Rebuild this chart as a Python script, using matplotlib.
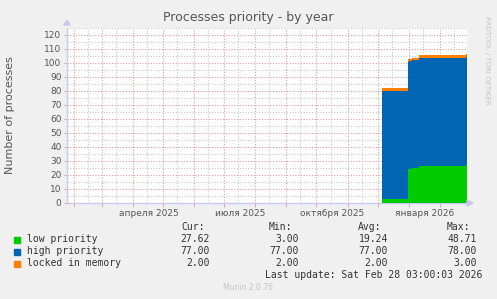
import matplotlib
matplotlib.use("Agg")
import matplotlib.pyplot as plt
import matplotlib.dates as mdates
import numpy as np
import pandas as pd

# ---- data ----
dates = ["2025-12-05 00:00", "2025-12-30 00:00", "2025-12-31 00:00", "2026-01-01 00:00",
         "2026-01-04 00:00", "2026-01-11 00:00", "2026-02-27 00:00", "2026-02-28 03:00"]
low_priority = [3.0, 3.0, 24.0, 24.2, 24.8, 26.4, 27.6, 27.6]
high_priority = [77.0, 77.0, 77.0, 77.0, 77.0, 77.0, 77.0, 77.0]
locked_in_memory = [2.0, 2.0, 2.0, 2.0, 2.0, 2.0, 2.0, 2.0]

series_names = ["low priority", "high priority", "locked in memory"]
series_colors = ["#00cc00", "#0066b3", "#ff8000"]
cur_vals = ["27.62", "77.00", "2.00"]
min_vals = ["3.00", "77.00", "2.00"]
avg_vals = ["19.24", "77.00", "2.00"]
max_vals = ["48.71", "78.00", "3.00"]

month_labels = ["апреля 2025", "июля 2025", "октября 2025", "января 2026"]
month_label_dates = ["2025-04-16 12:00", "2025-07-16 12:00", "2025-10-16 12:00", "2026-01-16 12:00"]

x_start = "2025-01-25 03:00"
x_end = "2026-02-28 03:00"

# ---- figure ----
W, H = 497, 299
fig = plt.figure(figsize=(W / 100, H / 100), dpi=100, facecolor="#f0f0f0")

def fx(px):
    return px / W

def fy(py):
    return 1 - py / H

L, R, T, B = 67, 467, 28, 203
ax = fig.add_axes([fx(L), fy(B), (R - L) / W, (B - T) / H])
ax.set_facecolor("white")

t = pd.to_datetime(dates, format="%Y-%m-%d %H:%M")
low = np.array(low_priority)
high = np.array(high_priority)
locked = np.array(locked_in_memory)
b1 = low
b2 = low + high
b3 = b2 + locked

ax.fill_between(t, 0, b1, step="post", color=series_colors[0], lw=0, zorder=3)
ax.fill_between(t, b1, b2, step="post", color=series_colors[1], lw=0, zorder=3)
ax.fill_between(t, b2, b3, step="post", color=series_colors[2], lw=0, zorder=3)

xs = pd.Timestamp(x_start)
xe = pd.Timestamp(x_end)
ax.set_xlim(xs, xe)
ax.set_ylim(0, 125)

# grid
minor_col = "#c8c8c8"
major_col = "#e09c9c"
for v in range(5, 126, 10):
    ax.axhline(v, color=minor_col, lw=0.8, ls=(0, (1, 1.5)), zorder=1)
for v in range(10, 121, 10):
    ax.axhline(v, color=major_col, lw=0.8, ls=(0, (1, 1.5)), zorder=1)

month_starts = pd.date_range("2025-02-01", "2026-02-01", freq="MS")
mids = month_starts + pd.Timedelta(days=14)
for d in mids:
    if xs < d < xe:
        ax.axvline(d, color=minor_col, lw=0.8, ls=(0, (1, 1.5)), zorder=1)
for d in month_starts:
    ax.axvline(d, color=major_col, lw=0.8, ls=(0, (1, 1.5)), zorder=1)

ax.set_yticks(range(0, 121, 10))
ax.set_yticklabels([str(v) for v in range(0, 121, 10)])
ax.tick_params(axis="y", labelsize=6.5, colors="#aaaaaa", labelcolor="#555555",
               length=2, width=0.6, pad=2)
ax.set_xticks(month_starts)
ax.set_xticklabels([])
ax.tick_params(axis="x", length=3, width=0.6, colors=major_col)

for lab, d in zip(month_labels, month_label_dates):
    ax.text(pd.Timestamp(d), -4.5, lab, ha="center", va="top", fontsize=6.5,
            color="#555555", clip_on=False)

for s in ["top", "right"]:
    ax.spines[s].set_visible(False)
ax.spines["left"].set_color("#c8c8f0")
ax.spines["bottom"].set_color("#c8c8f0")
ax.spines["left"].set_linewidth(1.0)
ax.spines["bottom"].set_linewidth(1.0)

# arrows
fig.patches.append(plt.Polygon([[fx(64), fy(25)], [fx(70), fy(25)], [fx(67), fy(20)]],
                               closed=True, transform=fig.transFigure, color="#c8c8f0"))
fig.patches.append(plt.Polygon([[fx(467), fy(200)], [fx(467), fy(206)], [fx(473), fy(203)]],
                               closed=True, transform=fig.transFigure, color="#c8c8f0"))

# titles
fig.text(fx(248), fy(18), "Processes priority - by year", ha="center", va="center",
         fontsize=9, color="#555555")
fig.text(fx(10), fy(115), "Number of processes", ha="center", va="center",
         rotation=90, fontsize=8, color="#555555")
fig.text(fx(487), fy(60), "RRDTOOL / TOBI OETIKER", ha="center", va="center",
         rotation=270, fontsize=5, color="#c4c4c4")

# legend
mono = "DejaVu Sans Mono"
fs = 7
tc = "#333333"
headers = [("Cur:", 181), ("Min:", 269), ("Avg:", 358), ("Max:", 447)]
for h, x in headers:
    fig.text(fx(x), fy(227), h, ha="left", va="center", fontsize=fs, family=mono, color=tc)
rows_y = [239.5, 251.5, 263.5]
for i, name in enumerate(series_names):
    y = rows_y[i]
    fig.patches.append(plt.Rectangle((fx(14), fy(y + 3)), 6 / W, 6 / H,
                                     transform=fig.transFigure, color=series_colors[i]))
    fig.text(fx(27), fy(y), name, ha="left", va="center", fontsize=fs, family=mono, color=tc)
    for vals, xr in zip([cur_vals, min_vals, avg_vals, max_vals], [210, 299, 388, 477]):
        fig.text(fx(xr), fy(y), vals[i], ha="right", va="center", fontsize=fs,
                 family=mono, color=tc)
fig.text(fx(482), fy(275.5), "Last update: Sat Feb 28 03:00:03 2026", ha="right",
         va="center", fontsize=fs, family=mono, color=tc)
fig.text(fx(248), fy(288), "Munin 2.0.76", ha="center", va="center", fontsize=5.5,
         color="#c4c4c4")

fig.savefig("out.png", dpi=100, facecolor=fig.get_facecolor())
